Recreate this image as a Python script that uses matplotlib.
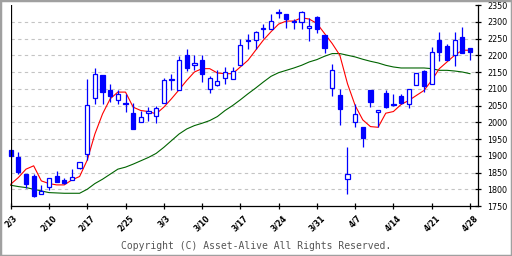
import matplotlib
matplotlib.use("Agg")
import matplotlib.pyplot as plt
from matplotlib.patches import Rectangle
import numpy as np

# daily OHLC (61 sessions, 2/3 .. 4/28)
opens = [1917, 1897, 1845, 1840, 1787, 1807, 1840, 1827, 1827, 1863,
         1905, 2072, 2140, 2095, 2067, 2058, 2028, 2002, 2028, 2020,
         2058, 2130, 2097, 2200, 2170, 2187, 2100, 2112, 2131, 2130,
         2172, 2247, 2245, 2277, 2277, 2330, 2322, 2303, 2298, 2280,
         2313, 2260, 2103, 2080, 1830, 2000, 1987, 2097, 2032, 2088,
         2055, 2078, 2053, 2110, 2152, 2113, 2247, 2227, 2200, 2253,
         2223]
highs = [1917, 1912, 1845, 1845, 1813, 1833, 1855, 1835, 1860, 1881,
         2128, 2163, 2140, 2113, 2095, 2083, 2057, 2035, 2045, 2049,
         2133, 2145, 2197, 2220, 2200, 2200, 2137, 2157, 2165, 2165,
         2250, 2263, 2273, 2292, 2323, 2337, 2322, 2308, 2332, 2310,
         2317, 2260, 2173, 2100, 1925, 2055, 1987, 2097, 2038, 2095,
         2083, 2083, 2100, 2148, 2155, 2225, 2270, 2235, 2270, 2285,
         2223]
lows = [1900, 1845, 1803, 1778, 1787, 1797, 1823, 1817, 1827, 1860,
        1887, 2053, 2053, 2060, 2055, 2030, 1980, 2002, 2005, 1997,
        2058, 2095, 2097, 2152, 2155, 2120, 2088, 2108, 2115, 2130,
        2172, 2220, 2220, 2252, 2277, 2310, 2280, 2277, 2277, 2243,
        2265, 2207, 2078, 1992, 1785, 1987, 1925, 2045, 1985, 2043,
        2050, 2055, 2043, 2110, 2090, 2113, 2183, 2185, 2168, 2208,
        2185]
closes = [1900, 1852, 1817, 1780, 1795, 1833, 1823, 1819, 1837, 1881,
          2052, 2143, 2090, 2078, 2083, 2055, 1980, 2017, 2035, 2043,
          2127, 2127, 2185, 2162, 2178, 2143, 2133, 2124, 2151, 2154,
          2232, 2244, 2268, 2280, 2303, 2327, 2307, 2298, 2328, 2287,
          2277, 2223, 2157, 2040, 1847, 2025, 1953, 2060, 2038, 2047,
          2052, 2058, 2100, 2148, 2108, 2210, 2210, 2185, 2247, 2208,
          2210]

# short and long moving averages
ma_short = [1815, 1835, 1860, 1870, 1825, 1817, 1813, 1813, 1828, 1838,
            1887, 1965, 2025, 2070, 2090, 2090, 2045, 2035, 2032, 2025,
            2045, 2070, 2097, 2125, 2150, 2160, 2160, 2147, 2145, 2145,
            2165, 2185, 2215, 2245, 2270, 2293, 2302, 2302, 2312, 2308,
            2295, 2265, 2235, 2200, 2115, 2050, 2007, 1987, 1985, 2027,
            2032, 2053, 2065, 2080, 2095, 2125, 2160, 2180, 2200, 2215,
            2215]
ma_long = [1812, 1808, 1805, 1800, 1795, 1790, 1789, 1788, 1788, 1788,
           1800, 1817, 1830, 1845, 1860, 1866, 1875, 1885, 1895, 1907,
           1925, 1945, 1965, 1980, 1990, 1997, 2005, 2017, 2035, 2050,
           2067, 2085, 2102, 2120, 2137, 2148, 2155, 2162, 2170, 2180,
           2187, 2197, 2205, 2205, 2200, 2195, 2188, 2182, 2177, 2170,
           2165, 2162, 2162, 2162, 2162, 2160, 2155, 2155, 2153, 2150,
           2145]

tick_labels = ["2/3", "2/10", "2/17", "2/25", "3/3", "3/10", "3/17",
               "3/24", "3/31", "4/7", "4/14", "4/21", "4/28"]

BLUE = "#0000ff"

fig = plt.figure(figsize=(5.12, 2.56), dpi=100)
ax = fig.add_axes([10.7 / 512, 50 / 256, (478 - 10.7) / 512, 201 / 256])

x = np.arange(len(opens))
o = np.array(opens); c = np.array(closes)
up = c >= o

# grid
for v in range(1800, 2301, 50):
    ax.axhline(v, color="#c4c4c4", lw=0.8, ls=(0, (3, 3)), zorder=0)

# moving averages
ax.plot(x, ma_long, color="#006400", lw=0.8, zorder=2, clip_on=False)
ax.plot(x, ma_short, color="#ff0000", lw=0.8, zorder=2, clip_on=False)

# candles
ax.vlines(x, lows, highs, color=BLUE, lw=0.9, zorder=3, clip_on=False)
body_lo = np.minimum(o, c)
body_h = np.maximum(np.abs(c - o), 2.5)
ax.bar(x[up], body_h[up], bottom=body_lo[up], width=0.55, color="white",
       edgecolor=BLUE, lw=0.9, zorder=4, clip_on=False)
ax.bar(x[~up], body_h[~up], bottom=body_lo[~up], width=0.55, color=BLUE,
       edgecolor=BLUE, lw=0.9, zorder=4, clip_on=False)

ax.set_xlim(0, 61.05)
ax.set_ylim(1750, 2350)

for s in ["top", "left"]:
    ax.spines[s].set_visible(False)
ax.spines["bottom"].set_linewidth(0.9)
ax.spines["right"].set_linewidth(0.9)
ax.axvline(0, color="black", lw=0.9, zorder=5)

ax.set_xticks(x[::5])
ax.set_xticklabels(tick_labels, rotation=45, ha="center", va="top",
                   fontsize=5.5, fontweight="bold")
ax.tick_params(axis="x", direction="inout", length=5, width=0.9, pad=3)
ax.yaxis.tick_right()
ax.set_yticks(range(1750, 2351, 50))
ax.tick_params(axis="y", direction="inout", length=5, width=0.9, labelsize=5.8, pad=4)

fig.text(0.5, 1 - 246 / 256, "Copyright (C) Asset-Alive All Rights Reserved.",
         ha="center", va="center", fontsize=7, family="DejaVu Sans Mono", color="#555555")

fig.patches.append(Rectangle((0, 0), 1, 1, transform=fig.transFigure, fill=False,
                             edgecolor="#a0a0a0", lw=2.5))

fig.savefig("out.png", dpi=100)
